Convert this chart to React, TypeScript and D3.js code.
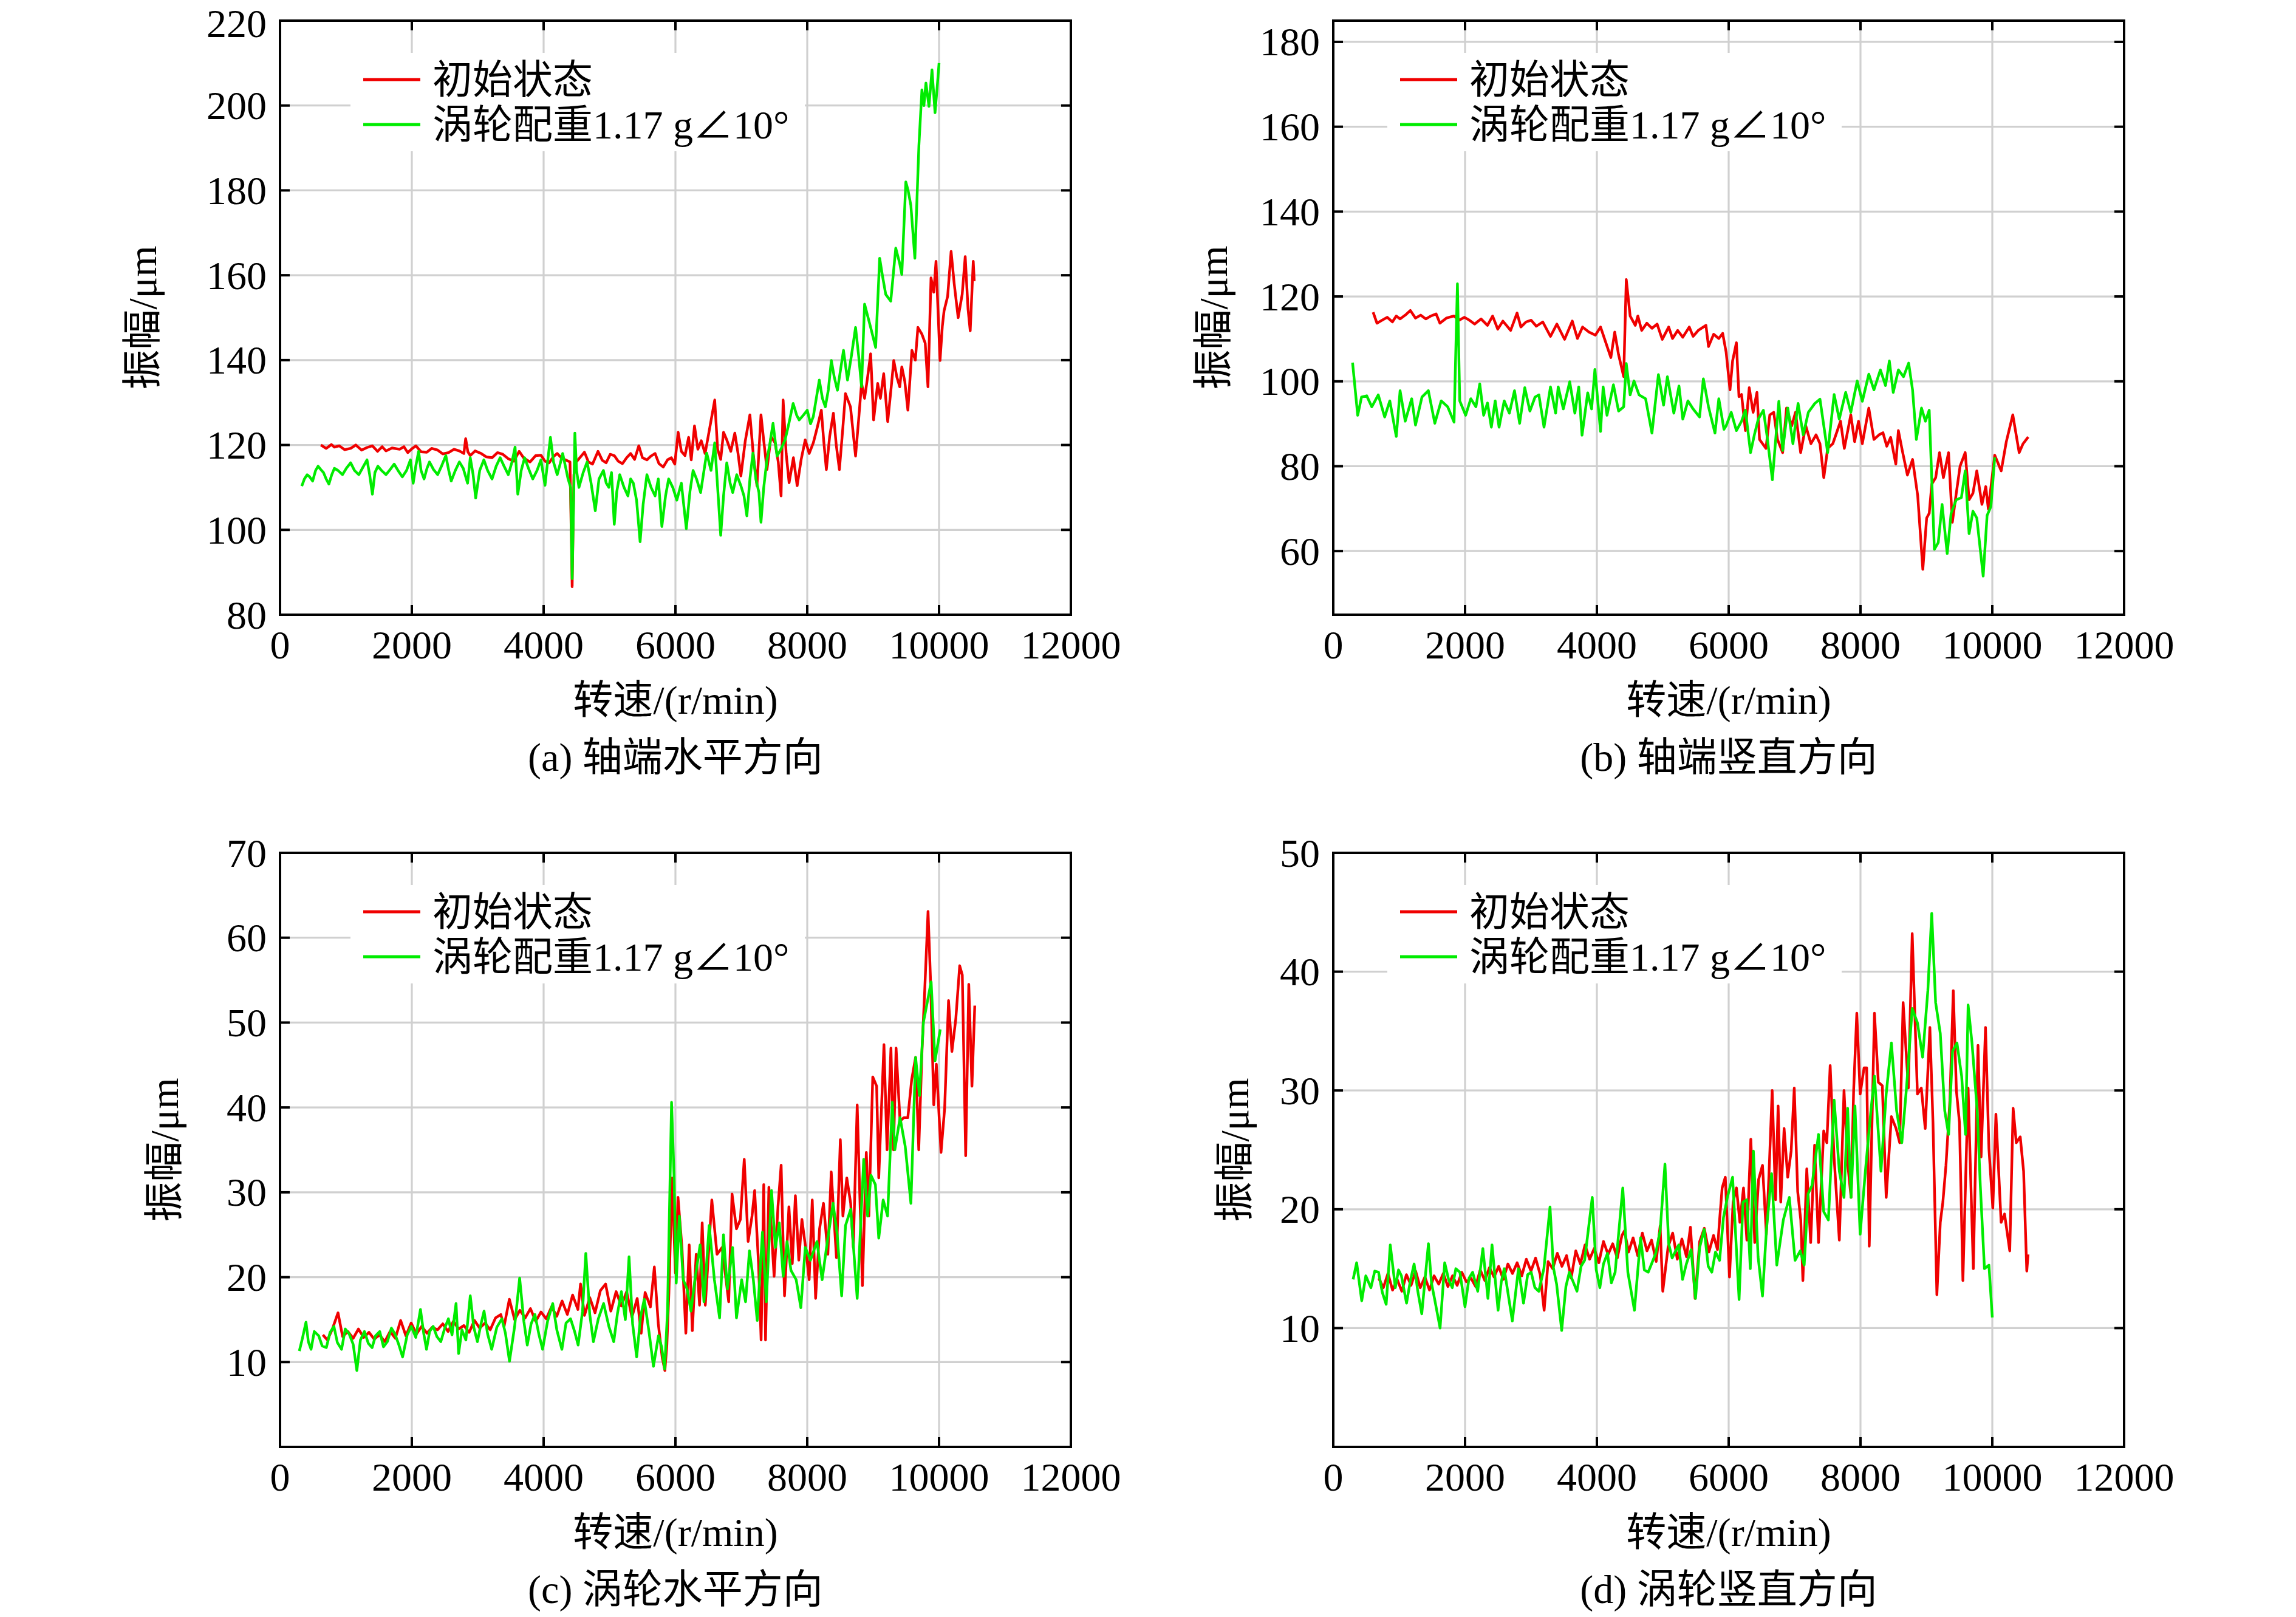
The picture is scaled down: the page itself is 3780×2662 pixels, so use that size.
import * as d3 from "d3";

type Pt = [number, number];

// ---- shared labels ----
const rpmTicks = [0, 2000, 4000, 6000, 8000, 10000, 12000];
const legendLabels = ["初始状态", "涡轮配重1.17 g∠10°"];
const xTitle = "转速/(r/min)";
const yTitle = "振幅/μm";
const captions = ["(a) 轴端水平方向", "(b) 轴端竖直方向", "(c) 涡轮水平方向", "(d) 涡轮竖直方向"];

const yTicksA = [80, 100, 120, 140, 160, 180, 200, 220];
const yTicksB = [60, 80, 100, 120, 140, 160, 180];
const yTicksC = [10, 20, 30, 40, 50, 60, 70];
const yTicksD = [10, 20, 30, 40, 50];

// ---- (a) shaft end, horizontal ----
const redA: Pt[] = [
  [620, 120], [700, 119.2], [780, 120.1], [825, 119.5], [900, 119.8], [980, 118.9], [1072, 119.2], [1150, 120],
  [1237, 118.8], [1320, 119.4], [1402, 119.8], [1480, 118.5], [1550, 119.6], [1608, 118.6], [1700, 119.3],
  [1815, 119], [1880, 119.6], [1938, 118.2], [2000, 119.1], [2062, 119.8], [2140, 118.4], [2227, 118.3],
  [2300, 119.2], [2392, 118.8], [2470, 117.9], [2557, 118.2], [2640, 119], [2722, 118.6], [2790, 118],
  [2817, 121.5], [2850, 118.4], [2887, 117.5], [2960, 118.6], [3052, 118], [3130, 117.2], [3217, 117],
  [3300, 118.2], [3382, 117.8], [3460, 116.8], [3547, 116.2], [3629, 118.5], [3700, 116.9], [3794, 116],
  [3880, 117.5], [3959, 117.6], [4020, 116.2], [4083, 115.8], [4150, 117.3], [4206, 118], [4280, 116.8],
  [4330, 116.5], [4400, 116], [4433, 86.6], [4460, 113], [4495, 116], [4560, 117.2], [4619, 118.3],
  [4680, 116], [4742, 115.5], [4825, 118.5], [4890, 116.4], [4949, 115.8], [5010, 117.8], [5072, 117.5],
  [5130, 116.2], [5196, 115.6], [5260, 117], [5320, 118], [5380, 116.6], [5444, 119.8], [5500, 117],
  [5567, 116.5], [5630, 117.4], [5691, 118], [5750, 115.6], [5815, 114.8], [5880, 116.5], [5938, 117],
  [5990, 115.5], [6041, 123], [6090, 118.5], [6145, 117.5], [6200, 121.8], [6240, 116.5], [6289, 124.5],
  [6340, 119], [6392, 121], [6450, 118], [6520, 124], [6596, 130.6], [6640, 119], [6687, 116.6],
  [6730, 123], [6779, 121.2], [6840, 118.5], [6901, 122.8], [6950, 118], [6993, 112.7], [7060, 121],
  [7130, 127.1], [7180, 118], [7237, 110.4], [7298, 127.1], [7340, 121], [7389, 114.2], [7450, 122],
  [7512, 120.5], [7560, 116], [7603, 108], [7634, 130.6], [7680, 118], [7725, 111.1], [7790, 117],
  [7847, 110.4], [7908, 116.6], [7969, 121.2], [8030, 118], [8092, 120.5], [8150, 124], [8214, 128.2],
  [8250, 121], [8290, 114.2], [8340, 122], [8397, 127.5], [8440, 120], [8488, 114.2], [8540, 124],
  [8580, 132.1], [8656, 129], [8733, 117.4], [8780, 126], [8824, 134.5], [8870, 131], [8916, 136],
  [8962, 141.5], [9007, 125.9], [9069, 134.5], [9110, 131], [9160, 136.8], [9221, 125.5], [9270, 133],
  [9313, 139.9], [9360, 136], [9404, 133.7], [9435, 138.4], [9480, 135], [9527, 128.2], [9588, 142.3],
  [9640, 140], [9679, 147.7], [9740, 146.1], [9790, 144], [9832, 133.7], [9878, 159.4], [9920, 156],
  [9954, 163.3], [10015, 139.9], [10050, 148], [10076, 151.6], [10130, 155], [10183, 165.6], [10230, 158],
  [10290, 150], [10351, 155.5], [10397, 164.4], [10440, 152], [10473, 146.9], [10519, 163.3], [10534, 158.6],
];
const greenA: Pt[] = [
  [330, 110.3], [370, 112], [412, 113], [450, 112.5], [495, 111.5], [540, 114], [577, 115], [620, 114.2],
  [660, 113.5], [700, 112], [742, 110.8], [785, 113], [825, 114.5], [880, 114], [948, 113], [1010, 114.6],
  [1072, 115.8], [1130, 114], [1196, 113], [1260, 114.8], [1320, 116.5], [1360, 113], [1402, 108.4],
  [1440, 113.5], [1485, 115], [1540, 114], [1608, 113], [1670, 114.2], [1732, 115.5], [1790, 114],
  [1856, 112.5], [1920, 114], [1979, 116.5], [2021, 111], [2060, 115], [2103, 118.5], [2140, 114],
  [2186, 112], [2230, 114.5], [2268, 116], [2330, 114.2], [2392, 113], [2450, 115], [2516, 117.5],
  [2560, 114], [2598, 111.5], [2660, 114], [2722, 116], [2780, 114.5], [2846, 111], [2887, 117],
  [2930, 113], [2969, 107.5], [3030, 114], [3093, 116.5], [3150, 114], [3217, 112], [3280, 115],
  [3340, 117], [3400, 115], [3464, 113], [3520, 116], [3567, 119.5], [3608, 108.4], [3660, 114],
  [3712, 117], [3770, 114.5], [3835, 112], [3900, 114], [3959, 116.5], [4021, 110.5], [4060, 116],
  [4103, 121.8], [4150, 116], [4206, 113], [4250, 115.5], [4289, 118], [4330, 115], [4371, 112],
  [4410, 110], [4433, 88.5], [4474, 122.8], [4500, 114], [4536, 110], [4600, 113.5], [4660, 116],
  [4720, 111], [4784, 104.5], [4840, 112], [4907, 114], [4950, 111], [4990, 110], [5030, 113.5],
  [5072, 101.3], [5110, 109], [5155, 113], [5220, 110], [5279, 108], [5320, 112], [5361, 111],
  [5410, 107], [5464, 97.2], [5510, 106], [5567, 113], [5630, 110], [5691, 108], [5740, 112],
  [5794, 100.8], [5850, 108], [5897, 112], [5960, 110], [6021, 107], [6090, 111], [6165, 100.3],
  [6220, 109], [6268, 114], [6320, 112], [6382, 108.8], [6474, 118.1], [6540, 114], [6596, 120.5],
  [6640, 110], [6687, 98.7], [6730, 108], [6779, 115.8], [6830, 111], [6870, 108.8], [6930, 113],
  [6993, 110.4], [7040, 108], [7084, 103.3], [7130, 112], [7176, 118.1], [7220, 112], [7267, 108.8],
  [7298, 101.8], [7340, 110], [7389, 116.6], [7430, 120], [7481, 125.1], [7542, 117.4], [7600, 119],
  [7664, 121.2], [7720, 125], [7786, 129.8], [7840, 127], [7878, 125.9], [7940, 127], [8000, 128.2],
  [8050, 125], [8092, 126.7], [8183, 135.3], [8230, 131], [8275, 129], [8320, 133], [8366, 139.9],
  [8410, 136], [8458, 132.9], [8550, 142.3], [8611, 135.3], [8670, 141], [8733, 147.7], [8780, 141],
  [8824, 133.7], [8870, 153.2], [8962, 147.7], [9038, 143], [9099, 164], [9140, 160], [9191, 155.5],
  [9267, 153.9], [9343, 166.4], [9400, 163], [9435, 160.2], [9496, 182], [9530, 180], [9572, 176.5],
  [9633, 164], [9694, 190.5], [9740, 203.7], [9770, 200], [9801, 205.3], [9847, 199.8], [9893, 208.4],
  [9939, 198.3], [9970, 204], [10000, 210],
];

// ---- (b) shaft end, vertical ----
const redB: Pt[] = [
  [605, 116.3], [663, 113.7], [741, 114.4], [819, 115.1], [897, 114], [956, 115.4], [1014, 114.7],
  [1092, 115.6], [1170, 116.7], [1248, 114.9], [1326, 115.6], [1404, 114.7], [1482, 115.4], [1560, 115.9],
  [1619, 113.7], [1716, 114.9], [1833, 115.4], [1911, 114.4], [1989, 115.1], [2067, 114.4], [2145, 113.5],
  [2243, 114.7], [2340, 113.2], [2418, 115.4], [2496, 112.3], [2574, 114.2], [2691, 112], [2789, 116.1],
  [2847, 112.8], [2925, 114], [3003, 114.4], [3081, 113], [3179, 114], [3296, 110.6], [3393, 113.5],
  [3510, 109.9], [3627, 114.2], [3705, 110.1], [3783, 112.8], [3881, 111.6], [3978, 110.9], [4056, 112.8],
  [4134, 109.2], [4212, 105.6], [4271, 111.6], [4329, 106.3], [4407, 101.1], [4446, 124], [4505, 115.4],
  [4583, 113.2], [4622, 115.4], [4680, 112], [4758, 113.7], [4836, 112.5], [4914, 113.5], [4992, 109.9],
  [5090, 112.8], [5148, 110.1], [5226, 112], [5304, 110.4], [5402, 112.8], [5460, 110.6], [5538, 112],
  [5655, 113.2], [5694, 108.2], [5772, 111.1], [5850, 110.1], [5909, 111.3], [5961, 106.9], [6020, 98],
  [6059, 104.8], [6117, 109.1], [6156, 96.4], [6195, 96.9], [6254, 88.4], [6312, 98.5], [6371, 92.7],
  [6429, 97.4], [6468, 86.3], [6566, 84.2], [6624, 92.1], [6683, 92.7], [6741, 86.3], [6819, 83.2],
  [6878, 93.7], [6956, 89.5], [7014, 92.7], [7092, 83.2], [7170, 89.5], [7248, 85.3], [7326, 87.4],
  [7385, 85.3], [7443, 77.3], [7502, 84.2], [7580, 85.3], [7638, 87.9], [7697, 90.6], [7755, 84.2],
  [7853, 92.1], [7911, 85.8], [7970, 90.6], [8028, 85.3], [8126, 93.7], [8204, 86.3], [8282, 87.4],
  [8341, 87.9], [8399, 84.7], [8458, 86.8], [8536, 80.5], [8575, 88.4], [8634, 83.7], [8712, 77.9],
  [8790, 81.6], [8868, 73.1], [8946, 55.7], [9004, 67.8], [9043, 68.9], [9082, 75.8], [9141, 77.3],
  [9199, 83.2], [9258, 77.3], [9336, 83.2], [9394, 66.8], [9453, 73.6], [9511, 80], [9589, 83.2],
  [9648, 72.1], [9706, 73.6], [9765, 78.9], [9843, 71], [9901, 75.2], [9940, 69.9], [10037, 82.6],
  [10135, 78.9], [10213, 85.8], [10311, 92.1], [10408, 83.2], [10467, 85.3], [10545, 86.9],
];
const greenB: Pt[] = [
  [293, 104.4], [371, 92], [429, 96.3], [507, 96.6], [585, 94], [683, 96.8], [780, 91.6], [858, 95.4],
  [956, 87], [1014, 97.8], [1092, 90.6], [1190, 95.9], [1248, 89.7], [1346, 96.3], [1443, 97.8],
  [1541, 90.1], [1638, 95.4], [1736, 94], [1833, 90.4], [1884, 123], [1919, 95.4], [2009, 92],
  [2087, 95.9], [2165, 94], [2223, 99.4], [2282, 92], [2340, 94.9], [2399, 89.2], [2457, 95.4],
  [2516, 89.2], [2594, 95.4], [2672, 92.5], [2750, 97.8], [2828, 90.1], [2906, 98.5], [2984, 93],
  [3062, 96.3], [3120, 96.8], [3198, 89.2], [3296, 98.7], [3374, 92.5], [3413, 98.7], [3491, 93.5],
  [3588, 99.9], [3666, 92.5], [3725, 98.7], [3775, 87.3], [3861, 97.3], [3920, 93.5], [3970, 102.8],
  [4056, 88.2], [4095, 98.7], [4154, 92], [4251, 99.2], [4329, 93], [4407, 94], [4446, 104.2],
  [4505, 96.8], [4563, 100.1], [4641, 96.8], [4739, 95.9], [4836, 87.8], [4934, 101.6], [5012, 94.4],
  [5070, 101.1], [5168, 92.5], [5246, 98.9], [5304, 91.1], [5382, 95.4], [5460, 93.5], [5558, 91.6],
  [5616, 100.6], [5694, 94], [5792, 87.8], [5850, 95.9], [5928, 88.7], [5961, 89.5], [6039, 92.7],
  [6117, 88.4], [6195, 90.6], [6254, 93.2], [6332, 83.2], [6390, 87.4], [6449, 91.1], [6527, 93.2],
  [6585, 86.8], [6663, 76.8], [6761, 95.3], [6819, 83.7], [6897, 93.7], [6975, 85.3], [7053, 94.8],
  [7131, 87.4], [7209, 92.7], [7307, 94.8], [7385, 95.8], [7502, 83.2], [7600, 96.9], [7678, 91.1],
  [7775, 97.4], [7853, 92.7], [7950, 100.1], [8028, 95.3], [8126, 101.7], [8204, 98], [8302, 102.7],
  [8380, 99], [8438, 104.8], [8497, 97.4], [8575, 102.7], [8653, 101.1], [8731, 104.3], [8790, 98],
  [8848, 86.3], [8926, 93.7], [8985, 90.6], [9043, 93.2], [9082, 76.8], [9121, 60.4], [9180, 62],
  [9238, 71], [9316, 59.4], [9375, 68.9], [9453, 72.1], [9531, 72.6], [9589, 78.9], [9648, 64.1],
  [9706, 69.4], [9765, 67.8], [9862, 54.1], [9921, 68.4], [9979, 70.5], [10037, 82.1],
];

// ---- (c) turbine, horizontal ----
const redC: Pt[] = [
  [650, 13.2], [720, 12.6], [790, 13.8], [880, 15.8], [950, 13], [1030, 13.6], [1110, 12.8], [1190, 13.9],
  [1270, 12.9], [1350, 13.5], [1430, 12.7], [1510, 13.2], [1590, 12.4], [1670, 13.6], [1750, 12.8],
  [1830, 14.9], [1910, 13.1], [1990, 14.6], [2070, 13.3], [2150, 14.2], [2230, 13.4], [2310, 14.1],
  [2390, 13.8], [2470, 14.5], [2550, 13.6], [2630, 14.8], [2710, 13.9], [2790, 14.3], [2870, 13.5],
  [2950, 14.9], [3030, 14], [3110, 14.6], [3190, 13.8], [3270, 15.2], [3350, 15.6], [3400, 14.2],
  [3480, 17.4], [3560, 15], [3640, 16.1], [3720, 15.2], [3800, 16.3], [3880, 14.8], [3960, 15.9],
  [4040, 15.1], [4120, 16.5], [4200, 15.4], [4280, 17.2], [4360, 15.6], [4440, 17.9], [4520, 16.2],
  [4560, 19.2], [4620, 15.5], [4700, 17.6], [4780, 15.8], [4860, 18.4], [4940, 19.2], [5020, 16],
  [5100, 18.3], [5180, 16.6], [5260, 18.3], [5340, 15.3], [5420, 17.5], [5480, 13.4], [5540, 18.2],
  [5620, 16.5], [5680, 21.2], [5740, 14.5], [5800, 10.5], [5840, 9], [5870, 12], [5901, 18.2],
  [5949, 31.7], [6000, 20.5], [6039, 29.4], [6099, 23.5], [6158, 13.4], [6209, 23.8], [6256, 13.7],
  [6315, 22.7], [6366, 16.7], [6406, 26.4], [6453, 16.7], [6552, 29.1], [6631, 22.7], [6709, 23.5],
  [6808, 17.1], [6859, 29.8], [6926, 25.7], [6985, 26.8], [7044, 33.9], [7103, 24.2], [7162, 27.2],
  [7202, 30.2], [7261, 21.6], [7300, 12.6], [7340, 30.9], [7367, 12.6], [7418, 30.6], [7497, 20.1],
  [7556, 28.3], [7604, 33.2], [7655, 17.8], [7722, 28.3], [7773, 21.6], [7820, 29.6], [7872, 22],
  [7919, 26.8], [7982, 23.1], [8029, 19.7], [8076, 29.1], [8127, 17.5], [8187, 25.7], [8246, 28.7],
  [8313, 22.7], [8364, 32.4], [8443, 22.3], [8502, 36.2], [8541, 27.2], [8600, 31.7], [8659, 28.7],
  [8699, 23.5], [8758, 40.3], [8837, 19], [8896, 34.7], [8935, 27.2], [8994, 43.6], [9053, 42.5],
  [9085, 31.7], [9164, 47.4], [9211, 35], [9270, 47], [9309, 35], [9348, 47], [9408, 38.4], [9467, 38.8],
  [9526, 38.8], [9585, 43.3], [9644, 45.9], [9692, 35], [9743, 47], [9782, 53.7], [9833, 63.1],
  [9873, 54.5], [9920, 40.3], [9959, 45.1], [10030, 34.7], [10085, 39.9], [10144, 52.6], [10195, 46.6],
  [10254, 50.4], [10313, 56.7], [10353, 55.6], [10404, 34.3], [10451, 54.5], [10499, 42.5], [10542, 52],
];
const greenC: Pt[] = [
  [293, 11.3], [340, 12.8], [394, 14.7], [430, 12.4], [471, 11.5], [520, 13.6], [587, 13.1], [640, 11.9],
  [703, 11.7], [760, 13.5], [818, 14.2], [870, 12.3], [934, 11.5], [990, 13.9], [1050, 13.3], [1110, 12.1],
  [1166, 9], [1220, 12.6], [1281, 13.6], [1340, 12.2], [1397, 11.7], [1450, 13.1], [1513, 13.6],
  [1570, 11.8], [1629, 12.4], [1690, 14], [1745, 13.3], [1800, 12.1], [1860, 10.6], [1930, 13.2],
  [1992, 14.2], [2060, 12.9], [2131, 16.2], [2180, 13.4], [2223, 11.5], [2270, 13.6], [2324, 14.2],
  [2380, 13], [2440, 12.4], [2500, 14], [2555, 15.1], [2610, 13.2], [2671, 16.9], [2710, 11], [2760, 13.8],
  [2820, 12.6], [2887, 17.8], [2940, 14.1], [2995, 12.4], [3050, 14.5], [3096, 16], [3150, 13.3],
  [3212, 11.5], [3290, 14.1], [3366, 15.1], [3420, 13.4], [3482, 10.1], [3560, 14.2], [3636, 19.9],
  [3700, 14.8], [3752, 12], [3810, 14.5], [3868, 15.6], [3930, 13.2], [3984, 11.5], [4060, 14.8],
  [4138, 16.9], [4200, 13.8], [4277, 11.5], [4340, 14.6], [4408, 15.1], [4470, 13.6], [4524, 12],
  [4590, 16], [4640, 22.8], [4700, 15.6], [4755, 12.4], [4830, 15.1], [4910, 16.9], [4990, 14.2],
  [5064, 12.4], [5120, 15.7], [5180, 18.3], [5240, 15], [5296, 22.4], [5350, 14.5], [5412, 10.6],
  [5470, 15.3], [5527, 17.4], [5600, 13.5], [5666, 9.5], [5743, 13.1], [5790, 11.8], [5836, 9.2],
  [5880, 16], [5941, 40.6], [5980, 31.7], [6012, 19.3], [6059, 27.2], [6118, 19.7], [6177, 18.6],
  [6236, 16], [6296, 19.7], [6374, 23.8], [6433, 17.1], [6512, 26.1], [6591, 19.7], [6670, 15.2],
  [6729, 25], [6788, 18.6], [6867, 23.5], [6926, 15.2], [7005, 19.7], [7064, 17.1], [7123, 23.1],
  [7182, 19.7], [7241, 14.9], [7320, 25.3], [7379, 17.1], [7458, 30.2], [7517, 23.5], [7576, 26.4],
  [7635, 20.1], [7694, 24.2], [7753, 20.8], [7832, 19.7], [7903, 16.4], [7970, 23.5], [8049, 22],
  [8147, 24.2], [8226, 19.7], [8305, 24.2], [8392, 28.7], [8455, 25], [8522, 17.8], [8581, 26.1],
  [8660, 28], [8758, 17.5], [8857, 33.9], [8916, 27.2], [8967, 32], [9034, 30.9], [9085, 24.6],
  [9152, 29.1], [9219, 27.2], [9290, 40.6], [9329, 35], [9408, 38.8], [9487, 35.4], [9573, 28.7],
  [9644, 45.9], [9703, 41.4], [9762, 50], [9880, 54.8], [9939, 45.5], [10018, 49.2],
];

// ---- (d) turbine, vertical ----
const redD: Pt[] = [
  [690, 14.2], [760, 13.4], [830, 14.6], [900, 13.2], [970, 14.1], [1040, 13.1], [1110, 14.5], [1180, 13.6],
  [1250, 14.8], [1320, 13.4], [1390, 14.3], [1460, 13.2], [1530, 14.4], [1600, 13.7], [1670, 14.6],
  [1740, 13.5], [1810, 14.4], [1880, 13.6], [1950, 14.7], [2020, 13.9], [2090, 14.2], [2160, 13.5],
  [2230, 14.9], [2300, 14], [2370, 15.1], [2440, 14.3], [2510, 15.2], [2580, 14.1], [2650, 15.4],
  [2720, 14.6], [2790, 15.5], [2860, 14.4], [2930, 15.8], [3000, 14.8], [3070, 15.9], [3140, 14.5],
  [3200, 11.5], [3260, 15.6], [3330, 15], [3400, 16.3], [3470, 15.2], [3540, 16.1], [3610, 14.2],
  [3680, 16.5], [3750, 15.4], [3820, 17], [3890, 15.8], [3960, 16.7], [4030, 15.5], [4100, 17.3],
  [4170, 16.2], [4240, 17.1], [4310, 15.9], [4380, 17.8], [4420, 18.2], [4480, 16.4], [4550, 17.6],
  [4620, 16.1], [4690, 18], [4760, 16.5], [4830, 17.4], [4900, 15.6], [4960, 18.6], [5000, 13.1],
  [5080, 16.8], [5150, 18], [5220, 15.8], [5290, 17.5], [5360, 16], [5420, 18.5], [5490, 12.5],
  [5560, 17.3], [5630, 18.4], [5700, 16.4], [5770, 17.8], [5830, 16.6], [5862, 19.1], [5901, 21.8],
  [5949, 22.7], [6012, 14.3], [6067, 20.6], [6118, 21.8], [6170, 18.9], [6225, 21.8], [6276, 17.4],
  [6336, 25.9], [6395, 17.2], [6454, 22.5], [6513, 23.7], [6572, 17.9], [6612, 23], [6660, 30],
  [6711, 20.8], [6750, 28.7], [6790, 20.6], [6841, 26.8], [6896, 22.7], [6948, 24.9], [6995, 30.2],
  [7047, 21.5], [7094, 19.1], [7126, 14], [7185, 23.4], [7244, 17.2], [7304, 25.4], [7363, 17.2],
  [7442, 26.6], [7489, 25.6], [7540, 32.1], [7599, 24.4], [7679, 17.4], [7750, 30], [7805, 23.9],
  [7857, 21], [7896, 30], [7944, 36.5], [7995, 29.7], [8054, 31.9], [8094, 31.9], [8133, 16.9],
  [8212, 36.5], [8271, 30.7], [8331, 30.4], [8390, 21], [8469, 27.8], [8540, 26.8], [8595, 25.6],
  [8647, 37.4], [8726, 30.2], [8785, 43.2], [8864, 29.7], [8923, 30.2], [8982, 26.8], [9053, 35.3],
  [9100, 27.3], [9159, 12.8], [9211, 18.9], [9250, 20.6], [9297, 23.7], [9357, 29.2], [9408, 38.4],
  [9455, 30], [9502, 27.3], [9554, 14], [9633, 30.2], [9712, 15], [9783, 33.8], [9830, 24.4],
  [9897, 35.3], [9949, 25.1], [10008, 20.1], [10055, 28], [10134, 18.9], [10186, 19.6], [10265, 16.5],
  [10316, 28.5], [10364, 25.6], [10424, 26.1], [10475, 23.2], [10523, 14.8], [10543, 16.2],
];
const greenD: Pt[] = [
  [301, 14.1], [355, 15.5], [432, 12.3], [494, 14.4], [571, 13.4], [630, 14.8], [687, 14.7], [745, 13],
  [803, 12], [865, 17], [942, 13.4], [990, 14.9], [1034, 14.4], [1112, 12.1], [1170, 14], [1227, 15.4],
  [1280, 13.2], [1343, 11.2], [1444, 17.1], [1490, 13.8], [1536, 12.5], [1621, 10], [1691, 15.5],
  [1750, 14.1], [1806, 13.4], [1860, 15], [1922, 14.7], [1999, 11.8], [2060, 14.2], [2115, 14.7],
  [2192, 13.1], [2270, 16.7], [2347, 12.5], [2409, 17], [2501, 11.5], [2550, 13.9], [2594, 15],
  [2717, 10.6], [2810, 15], [2887, 12.1], [2950, 14.5], [3003, 14.7], [3060, 13.4], [3119, 13.1],
  [3196, 15], [3289, 20.2], [3340, 15.1], [3389, 13.7], [3466, 9.8], [3530, 13.5], [3582, 14.7],
  [3698, 13.1], [3760, 15.2], [3814, 15.7], [3930, 21], [3990, 14.9], [4045, 13.4], [4100, 15.4],
  [4161, 16.3], [4220, 13.8], [4277, 14.7], [4393, 21.8], [4470, 14.7], [4570, 11.5], [4663, 17.6],
  [4720, 14.9], [4779, 14.7], [4894, 16.3], [4960, 18.2], [5033, 23.8], [5090, 17.1], [5142, 15.9],
  [5242, 17], [5300, 14.1], [5358, 15.4], [5430, 16.6], [5497, 12.5], [5560, 16.8], [5628, 18.3],
  [5690, 15.2], [5744, 14.7], [5800, 16.4], [5862, 15.7], [5921, 19.3], [5980, 21], [6059, 22.7],
  [6158, 12.4], [6217, 20.6], [6276, 20.8], [6328, 15], [6375, 24.9], [6446, 16], [6513, 12.7],
  [6572, 18.2], [6651, 23], [6730, 15.3], [6829, 19.1], [6920, 21], [7007, 15.7], [7086, 16.5],
  [7146, 15.3], [7205, 21.3], [7264, 22], [7363, 26.3], [7442, 19.8], [7513, 19.1], [7600, 29.2],
  [7679, 23.2], [7750, 21], [7805, 28.5], [7857, 21], [7916, 28.7], [7995, 17.9], [8074, 23.2],
  [8153, 28], [8212, 31.2], [8311, 23.2], [8390, 29.7], [8469, 34], [8548, 28.3], [8627, 25.6],
  [8698, 30.2], [8785, 36.9], [8864, 35.7], [8943, 32.8], [9022, 38.4], [9081, 44.9], [9140, 37.4],
  [9211, 34.8], [9278, 28.3], [9337, 26.3], [9397, 33.3], [9464, 34], [9535, 31.2], [9594, 26.3],
  [9633, 37.2], [9692, 34], [9771, 28.3], [9818, 22], [9881, 15], [9949, 15.3], [10000, 10.9],
];

const FONT = '"Liberation Serif", "Times New Roman", "Noto Sans CJK SC", serif';
const FS = 66;
const RED = "#f00000";
const GREEN = "#00ec00";
const GRID = "#d0d0d0";

const PW = 1302;
const PH = 978;

interface PanelProps {
  left: number;
  top: number;
  red: Pt[];
  green: Pt[];
  yDomain: [number, number];
  yTicks: number[];
  caption: string;
  yTitleOffset: number;
  legendDx: number;
}

const Panel = ({ left, top, red, green, yDomain, yTicks, caption, yTitleOffset, legendDx }: PanelProps) => {
  const x = d3.scaleLinear().domain([0, 12000]).range([0, PW]);
  const y = d3.scaleLinear().domain(yDomain).range([PH, 0]);
  const line = d3.line<Pt>().x(d => x(d[0])).y(d => y(d[1]));
  const tk = 16;
  // keep the topmost tick label inside the page
  const labelY = (t: number) => Math.max(y(t), 38 - top);

  return (
    <g transform={`translate(${left},${top})`} fontFamily={FONT} fontSize={FS}>
      {/* grid */}
      {rpmTicks.slice(1, -1).map(t => (
        <line key={"gx" + t} x1={x(t)} x2={x(t)} y1={0} y2={PH} stroke={GRID} strokeWidth={3.2} />
      ))}
      {yTicks.filter(t => t > yDomain[0] && t < yDomain[1]).map(t => (
        <line key={"gy" + t} x1={0} x2={PW} y1={y(t)} y2={y(t)} stroke={GRID} strokeWidth={3.2} />
      ))}

      {/* data */}
      <path d={line(red) ?? ""} fill="none" stroke={RED} strokeWidth={4.4} strokeLinejoin="round" />
      <path d={line(green) ?? ""} fill="none" stroke={GREEN} strokeWidth={4.4} strokeLinejoin="round" />

      {/* legend */}
      <g transform={`translate(${legendDx},0)`}>
        <rect x={116} y={53} width={748} height={162} fill="#fff" />
        <line x1={137} x2={231} y1={97} y2={97} stroke={RED} strokeWidth={4.8} />
        <line x1={137} x2={231} y1={171} y2={171} stroke={GREEN} strokeWidth={4.8} />
        <text x={251} y={97} dominantBaseline="central">{legendLabels[0]}</text>
        <text x={251} y={171} dominantBaseline="central">{legendLabels[1]}</text>
      </g>

      {/* axes box + inward ticks */}
      <rect x={0} y={0} width={PW} height={PH} fill="none" stroke="#000" strokeWidth={4} />
      {rpmTicks.map(t => (
        <g key={"tx" + t}>
          <line x1={x(t)} x2={x(t)} y1={PH} y2={PH - tk} stroke="#000" strokeWidth={4} />
          <line x1={x(t)} x2={x(t)} y1={0} y2={tk} stroke="#000" strokeWidth={4} />
          <text x={x(t)} y={PH + 49} textAnchor="middle" dominantBaseline="central">{t}</text>
        </g>
      ))}
      {yTicks.map(t => (
        <g key={"ty" + t}>
          <line x1={0} x2={tk} y1={y(t)} y2={y(t)} stroke="#000" strokeWidth={4} />
          <line x1={PW} x2={PW - tk} y1={y(t)} y2={y(t)} stroke="#000" strokeWidth={4} />
          <text x={-22} y={labelY(t)} textAnchor="end" dominantBaseline="central">{t}</text>
        </g>
      ))}

      {/* titles */}
      <text x={PW / 2} y={PH + 140} textAnchor="middle" dominantBaseline="central">{xTitle}</text>
      <text
        transform={`translate(${-yTitleOffset},${PH / 2}) rotate(-90)`}
        textAnchor="middle"
        dominantBaseline="central"
      >
        {yTitle}
      </text>
      <text x={PW / 2} y={PH + 234} textAnchor="middle" dominantBaseline="central">{caption}</text>
    </g>
  );
};

export default function App() {
  return (
    <svg
      width={3780}
      height={2662}
      style={{ position: "absolute", left: 0, top: 0, background: "#fff", display: "block" }}
    >
      <rect width={3780} height={2662} fill="#fff" />
      <Panel left={461} top={34} red={redA} green={greenA} yDomain={[80, 220]} yTicks={yTicksA} caption={captions[0]} yTitleOffset={227} legendDx={0} />
      <Panel left={2195} top={34} red={redB} green={greenB} yDomain={[45, 185]} yTicks={yTicksB} caption={captions[1]} yTitleOffset={198} legendDx={-27} />
      <Panel left={461} top={1404} red={redC} green={greenC} yDomain={[0, 70]} yTicks={yTicksC} caption={captions[2]} yTitleOffset={191} legendDx={0} />
      <Panel left={2195} top={1404} red={redD} green={greenD} yDomain={[0, 50]} yTicks={yTicksD} caption={captions[3]} yTitleOffset={163} legendDx={-27} />
    </svg>
  );
}
